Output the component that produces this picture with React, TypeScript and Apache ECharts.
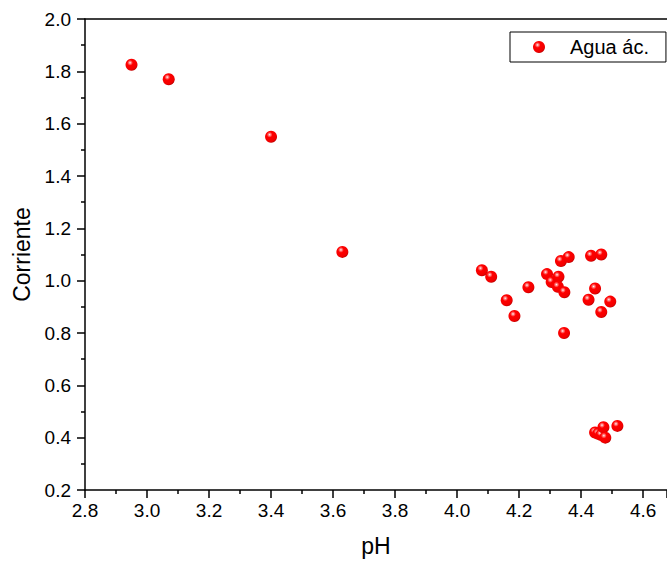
import React, { useEffect, useRef } from "react";
import * as echarts from "echarts";

const seriesName = "Agua ác.";
const phValues = [
  2.95, 3.07, 3.4, 3.63,
  4.08, 4.11, 4.16, 4.185, 4.23,
  4.29, 4.305, 4.327, 4.325, 4.346, 4.335, 4.36, 4.345,
  4.432, 4.465, 4.445, 4.424, 4.494, 4.465,
  4.445, 4.455, 4.465, 4.472, 4.478, 4.517,
];
const currentValues = [
  1.825, 1.77, 1.55, 1.11,
  1.04, 1.015, 0.925, 0.865, 0.975,
  1.025, 0.995, 1.015, 0.977, 0.956, 1.075, 1.09, 0.8,
  1.095, 1.1, 0.97, 0.927, 0.92, 0.88,
  0.42, 0.415, 0.41, 0.44, 0.4, 0.445,
];
const xTitle = "pH";
const yTitle = "Corriente";

const FONT = "'Liberation Sans', Arial, sans-serif";

export default function App() {
  const ref = useRef<HTMLDivElement>(null);
  useEffect(() => {
    if (!ref.current) return;
    const chart = echarts.init(ref.current, null, { renderer: "svg" });
    const sphere = new echarts.graphic.RadialGradient(0.38, 0.33, 0.68, [
      { offset: 0, color: "#ffffff" },
      { offset: 0.12, color: "#ff9090" },
      { offset: 0.35, color: "#ff0000" },
      { offset: 0.85, color: "#f00000" },
      { offset: 1, color: "#c00000" },
    ]);
    const data = phValues.map((x, i) => [x, currentValues[i]]);
    chart.setOption({
      animation: false,
      textStyle: { fontFamily: FONT },
      grid: { left: 85, top: 19, right: 0, bottom: 82, containLabel: false },
      legend: {
        data: [seriesName],
        left: 510,
        top: 32,
        orient: "vertical",
        borderColor: "#000",
        borderWidth: 1,
        borderRadius: 0,
        padding: [5, 17, 5, 23],
        itemWidth: 12,
        itemHeight: 12,
        icon: "circle",
        textStyle: {
          fontSize: 20,
          color: "#000",
          fontFamily: FONT,
          lineHeight: 20,
          padding: [0, 0, 0, 20],
        },
      },
      xAxis: [
        {
          type: "value",
          min: 2.8,
          max: 4.677,
          interval: 0.2,
          name: xTitle,
          nameLocation: "middle",
          nameGap: 44,
          nameTextStyle: { fontSize: 23, color: "#000", fontFamily: FONT },
          axisLine: { show: true, lineStyle: { color: "#000", width: 1.5 } },
          axisTick: { show: true, length: 8, lineStyle: { color: "#000", width: 1.5 } },
          minorTick: { show: true, splitNumber: 2, length: 4, lineStyle: { color: "#000", width: 1.5 } },
          axisLabel: {
            fontSize: 19,
            color: "#000",
            margin: 11,
            showMaxLabel: false,
            formatter: (v: number) => v.toFixed(1),
          },
          splitLine: { show: false },
        },
        {
          type: "value",
          position: "top",
          min: 2.8,
          max: 4.677,
          axisLine: { show: true, lineStyle: { color: "#000", width: 1.5 } },
          axisTick: { show: false },
          axisLabel: { show: false },
          splitLine: { show: false },
        },
      ],
      yAxis: {
        type: "value",
        min: 0.2,
        max: 2.0,
        interval: 0.2,
        name: yTitle,
        nameLocation: "middle",
        nameGap: 50,
        nameTextStyle: { fontSize: 23, color: "#000", fontFamily: FONT },
        axisLine: { show: true, lineStyle: { color: "#000", width: 1.5 } },
        axisTick: { show: true, length: 8, lineStyle: { color: "#000", width: 1.5 } },
        minorTick: { show: true, splitNumber: 2, length: 4, lineStyle: { color: "#000", width: 1.5 } },
        axisLabel: {
          fontSize: 19,
          color: "#000",
          margin: 14,
          formatter: (v: number) => v.toFixed(1),
        },
        splitLine: { show: false },
      },
      series: [
        {
          name: seriesName,
          type: "scatter",
          xAxisIndex: 0,
          data,
          symbol: "circle",
          symbolSize: 12,
          itemStyle: { color: sphere, opacity: 1 },
        },
      ],
    });
    return () => chart.dispose();
  }, []);
  return (
    <div
      ref={ref}
      style={{ position: "absolute", left: 0, top: 0, width: 667, height: 572 }}
    />
  );
}
